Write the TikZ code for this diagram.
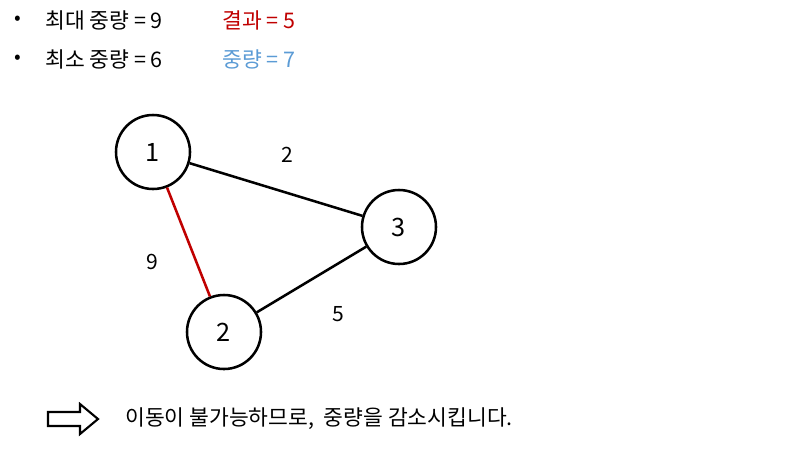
\documentclass[tikz,border=0pt]{standalone}
\usepackage{fontspec}
\setmainfont{Noto Sans CJK KR}
\definecolor{moerkroed}{HTML}{C00000}
\definecolor{lyseblaa}{HTML}{5B9BD5}
\begin{document}
\begin{tikzpicture}[x=0.025cm, y=-0.025cm,
    knude/.style={circle, draw, line width=1.8pt, minimum size=1.85cm, font=\fontsize{18}{20}\selectfont},
    kant/.style={line width=1.8pt},
    tekst/.style={anchor=west, inner sep=0pt, font=\fontsize{15.3}{18}\selectfont},
    vaegt/.style={inner sep=0pt, font=\fontsize{15}{18}\selectfont}]
    \useasboundingbox (0,0) rectangle (800,450);

    %Tekst
        \node[tekst] (b1) at (14,20) {\fontsize{14}{16}\selectfont •};
        \node[tekst] (b2) at (14,59) {\fontsize{14}{16}\selectfont •};
        \node[tekst] (maks) at (45,20) {최대 중량 = 9};
        \node[tekst] (min) at (45,59) {최소 중량 = 6};
        \node[tekst, text=moerkroed] (res) at (222,20) {결과 = 5};
        \node[tekst, text=lyseblaa] (mid) at (222,59) {중량 = 7};

    %Noder
        \node[knude] (n1) at (153,152) {1};
        \node[knude] (n2) at (224,332) {2};
        \node[knude] (n3) at (399,227) {3};

    %Kanter
        \draw[kant] (n1) -- (n3);
        \draw[kant, moerkroed] (n1) -- (n2);
        \draw[kant] (n2) -- (n3);
        \node[vaegt] (v13) at (287,155) {2};
        \node[vaegt] (v12) at (152,262) {9};
        \node[vaegt] (v23) at (338,314) {5};

    %Pil
        \draw[line width=1.5pt, line join=miter] (48,412) -- (80,412) -- (80,404) -- (98,419) -- (80,434) -- (80,426) -- (48,426) -- cycle;
        \node[tekst] (besked) at (125,419) {이동이 불가능하므로,\ \ 중량을 감소시킵니다.};
\end{tikzpicture}
\end{document}
